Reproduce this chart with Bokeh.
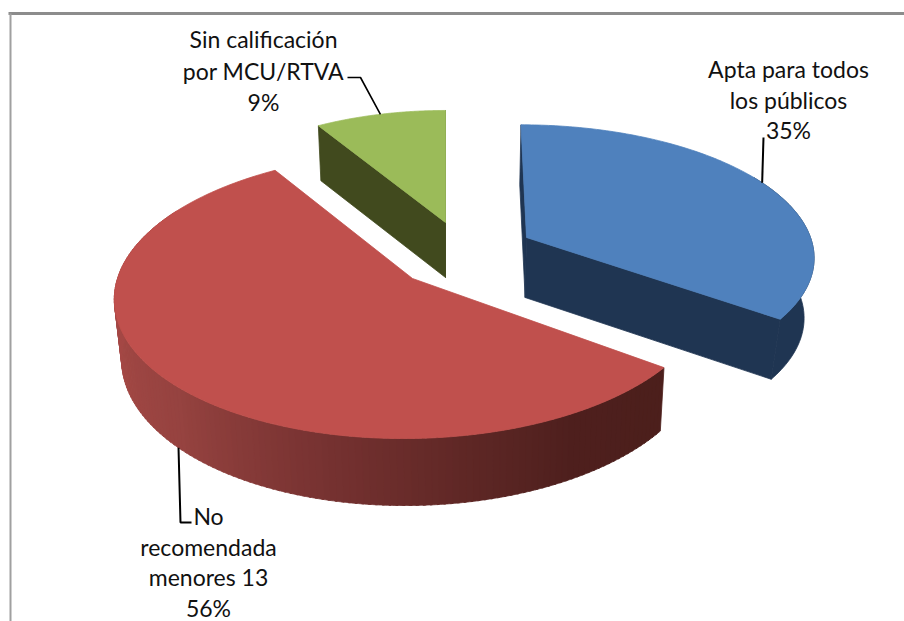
import math
import numpy as np
from bokeh.plotting import figure
from bokeh.embed import file_html
from bokeh.resources import INLINE
from bokeh.core.properties import value

categories = ["Apta para todos los públicos", "No recomendada menores 13", "Sin calificación por MCU/RTVA"]
shares = [35, 56, 9]
label_lines = [["Apta para todos", "los públicos", "35%"],
               ["No", "recomendada", "menores 13", "56%"],
               ["Sin calificación", "por MCU/RTVA", "9%"]]
top_colors = ["#4F81BD", "#C0504D", "#9BBB59"]
wall_colors = ["#1F3552", "#6E2E2C", "#414A1E"]

# --- projection of each tilted slice (page pixels) ---
W, H = 904, 621
apex = [(526, 237), (412, 278), (445, 222)]
semi_a = [284.0, 295.0, 272.0]
semi_b = [128.0, 141.0, 131.4]
persp = [0.136, 0.119, 0.173]
vanish = [480.0, 480.0, 445.0]
depth = [60.0, 59.0, 55.0]
depth_grow = [0.0, 1.0, 0.0]
pull = [0.97, 0.98, 0.98]

def project(i, deg, r=1.0, bottom=False):
    t = np.radians(deg)
    X, Y = r * np.sin(t), r * np.cos(t)
    f = 1 / (1 + persp[i] * Y)
    cx, cy = apex[i]
    x = vanish[i] + (cx - vanish[i]) * f + semi_a[i] * X * f
    y = cy - semi_b[i] * Y * f
    if bottom:
        x = vanish[i] + (x - vanish[i]) * pull[i]
        y = y + depth[i] * f ** depth_grow[i]
    return x, y

def ring(i, d0, d1, n=120, bottom=False):
    return project(i, np.linspace(d0, d1, n), 1.0, bottom)

edges = np.cumsum([0] + shares) * 3.6

p = figure(width=W, height=H, x_range=(0, W), y_range=(H, 0),
           output_backend="svg", toolbar_location=None, min_border=0,
           background_fill_color="white", border_fill_color="white")
p.axis.visible = False
p.grid.visible = False
p.outline_line_color = None

def face(xs, ys, color):
    p.patch(list(xs), list(ys), fill_color=color, line_color=color, line_width=0.8)

def radial_wall(i, deg, color):
    ax, ay = project(i, 0.0, 0.0)
    bx, by = project(i, 0.0, 0.0, True)
    ox, oy = project(i, deg)
    ux, uy = project(i, deg, 1.0, True)
    face([ax, ox, ux, bx], [ay, oy, uy, by], color)

def outer_wall(i, d0, d1, color):
    x0, y0 = ring(i, d0, d1, 8)
    x1, y1 = ring(i, d0, d1, 8, bottom=True)
    face(np.r_[x0, x1[::-1]], np.r_[y0, y1[::-1]], color)

# walls: green
radial_wall(2, edges[2], wall_colors[2])
radial_wall(2, edges[3], wall_colors[2])
# walls: blue
radial_wall(0, edges[0], wall_colors[0])
radial_wall(0, edges[1], wall_colors[0])
x0, y0 = ring(0, 60, edges[1], 60)
x1, y1 = ring(0, 60, edges[1], 60, bottom=True)
face(np.r_[x0, x1[::-1]], np.r_[y0, y1[::-1]], wall_colors[0])
# walls: red, shaded along the arc
stops_deg = [126, 150, 170, 195, 225, 255, 300]
stops_rgb = [(0x4C, 0x1F, 0x1C), (0x4F, 0x20, 0x1E), (0x60, 0x28, 0x26), (0x78, 0x33, 0x32),
             (0x96, 0x43, 0x40), (0xA4, 0x48, 0x45), (0xA4, 0x48, 0x45)]
steps = np.arange(edges[1], 300, 1.2)
for a0 in steps:
    mid = a0 + 0.6
    rgb = [int(np.interp(mid, stops_deg, [c[k] for c in stops_rgb])) for k in range(3)]
    outer_wall(1, a0, a0 + 1.6, "#%02x%02x%02x" % tuple(rgb))

# top faces
for i in range(3):
    x, y = ring(i, edges[i], edges[i + 1], 160)
    ax, ay = project(i, 0.0, 0.0)
    face(np.r_[ax, x], np.r_[ay, y], top_colors[i])

# leader lines start at the middle of each slice
mids = (edges[:-1] + edges[1:]) / 2
lx, ly = project(0, mids[0])
p.line([lx, 763], [ly, 137], line_color="black", line_width=2)
lx, ly = project(2, mids[2])
p.line([lx, 360, 347], [ly, 77, 77], line_color="black", line_width=1.6)
lx, ly = project(1, mids[1], 1.0, True)
p.line([lx, 180, 191], [ly, 522, 522], line_color="black", line_width=2)

# labels
label_pos = [(788, [68, 99, 129]), (208, [515, 546, 576, 607]), (263, [38, 70, 101])]
for (cx, ys), lines in zip(label_pos, label_lines):
    p.text([cx] * len(lines), ys, text=lines, text_font=value("Lato"), text_font_size="23px",
           text_align="center", text_baseline="middle", text_color="#111111")

# frame
p.line([8, W], [13, 13], line_color="#8C8C8C", line_width=3)
p.line([10, 10], [13, H], line_color="#A0A0A0", line_width=2)

open("out.html", "w").write(file_html(p, INLINE))
